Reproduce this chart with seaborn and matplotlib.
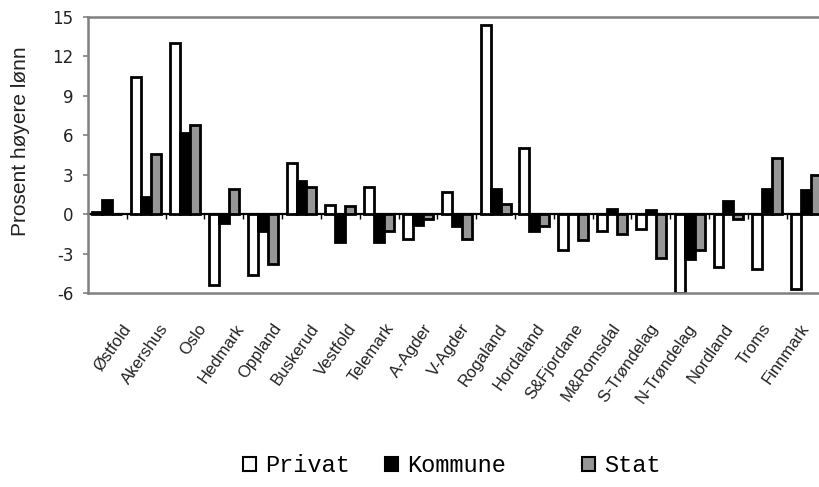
import numpy as np
import pandas as pd
import matplotlib
matplotlib.use("Agg")
import matplotlib.pyplot as plt
import seaborn as sns
from matplotlib.patches import Patch

plt.rcParams["axes.unicode_minus"] = False

fylker = ["Østfold", "Akershus", "Oslo", "Hedmark", "Oppland", "Buskerud",
          "Vestfold", "Telemark", "A-Agder", "V-Agder", "Rogaland", "Hordaland",
          "S&Fjordane", "M&Romsdal", "S-Trøndelag", "N-Trøndelag", "Nordland",
          "Troms", "Finnmark"]
privat = [0.2, 10.4, 13.0, -5.4, -4.6, 3.9, 0.7, 2.1, -1.9, 1.7, 14.4, 5.0,
          -2.7, -1.3, -1.1, -6.0, -4.0, -4.2, -5.7]
kommune = [1.1, 1.3, 6.2, -0.7, -1.3, 2.5, -2.1, -2.1, -0.8, -0.9, 1.9, -1.3,
           0.0, 0.4, 0.3, -3.4, 1.0, 1.9, 1.8]
stat = [0.0, 4.6, 6.8, 1.9, -3.8, 2.1, 0.6, -1.3, -0.4, -1.9, 0.8, -0.9,
        -2.0, -1.5, -3.3, -2.7, -0.4, 4.3, 3.0]
sektorer = ["Privat", "Kommune", "Stat"]
farger = ["#ffffff", "#000000", "#969696"]
yticks = [-6, -3, 0, 3, 6, 9, 12, 15]

df = pd.DataFrame({
    "Fylke": fylker * 3,
    "Sektor": [s for s in sektorer for _ in fylker],
    "Verdi": privat + kommune + stat,
})

W, H = 820, 487
fig = plt.figure(figsize=(W / 100, H / 100), dpi=100)
ax = fig.add_axes([88 / W, 1 - 293 / H, (825.5 - 88) / W, (293 - 17) / H])

sns.barplot(data=df, x="Fylke", y="Verdi", hue="Sektor", hue_order=sektorer,
            order=fylker, palette=farger, saturation=1, edgecolor="black",
            linewidth=2, width=0.77, errorbar=None, legend=False, ax=ax)

n = len(fylker)
ax.set_xlim(-0.5, n - 0.5)
ax.set_ylim(yticks[0], yticks[-1])
ax.set_yticks(yticks)
ax.set_xlabel("")
ax.set_ylabel("Prosent høyere lønn", fontsize=15, family="Liberation Sans",
              color="#222222")
ax.yaxis.set_label_coords(-0.079, 0.55)

for s in ["left", "top", "bottom"]:
    ax.spines[s].set_color("#808080")
    ax.spines[s].set_linewidth(1.8)
ax.spines["right"].set_visible(False)

ax.tick_params(axis="y", length=3.6, width=1.2, color="#808080",
               labelsize=12, labelcolor="#222222", pad=7)

# rotated category labels (anchored at their upper end, Excel style)
label_pos = 0.36 + 0.9704 * np.arange(n)
ax.set_xticks(label_pos, labels=fylker)
ax.tick_params(axis="x", length=0, labelsize=12, labelcolor="#222222", pad=20.2)
for lab in ax.get_xticklabels():
    lab.set_rotation(55)
    lab.set_ha("right")
    lab.set_va("top")
    lab.set_rotation_mode("anchor")
    lab.set_family("Liberation Sans")

# zero line with category boundary ticks
loc0 = (0 - yticks[0]) / (yticks[-1] - yticks[0])
sec = ax.secondary_xaxis(loc0)
sec.set_xticks(np.arange(n - 1) + 0.5)
sec.tick_params(length=3.5, width=1, color="black", direction="out",
                labelbottom=False, labeltop=False)
for s in ["top", "bottom"]:
    sec.spines[s].set_color("black")
    sec.spines[s].set_linewidth(1.6)

# legend entries placed like the original
legend_x = [243, 385, 582]
for s, c, lx in zip(sektorer, farger, legend_x):
    h = Patch(facecolor=c, edgecolor="black", linewidth=1.5, label=s)
    fig.legend(handles=[h], loc="center left",
               bbox_to_anchor=(lx / W, 1 - 466 / H), frameon=False,
               prop={"family": "Liberation Mono", "size": 17},
               handlelength=0.55, handleheight=0.55, handletextpad=0.38,
               borderpad=0, borderaxespad=0)

fig.savefig("out.png", dpi=100)
